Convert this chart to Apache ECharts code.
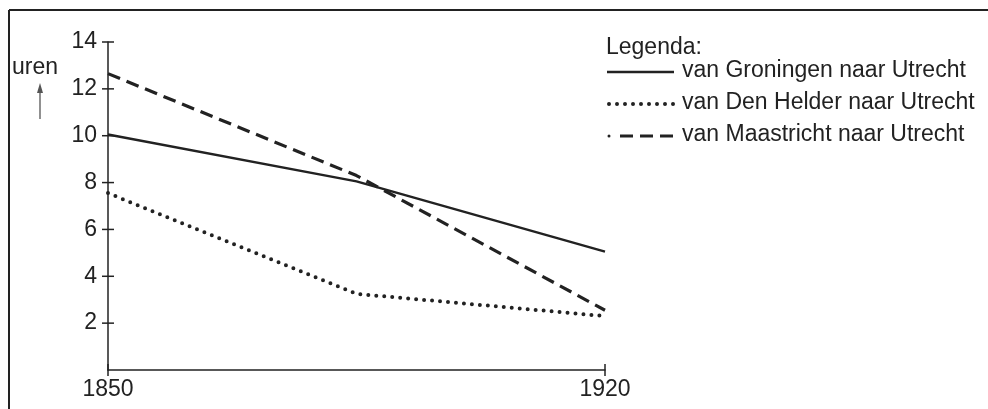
<!DOCTYPE html>
<html>
<head>
<meta charset="utf-8">
<script src="https://cdn.jsdelivr.net/npm/echarts@6/dist/echarts.min.js"></script>
<style>
html,body{margin:0;padding:0;background:#fff;}
#c{width:988px;height:409px;}
</style>
</head>
<body>
<div id="c"></div>
<script>
var years = [1850, 1885, 1920];
var groningen = [10.05, 8.05, 5.05];
var denHelder = [7.55, 3.25, 2.3];
var maastricht = [12.65, 8.3, 2.55];
var seriesNames = ['van Groningen naar Utrecht', 'van Den Helder naar Utrecht', 'van Maastricht naar Utrecht'];
var yTicks = [2, 4, 6, 8, 10, 12, 14];
var xTicks = [1850, 1920];
var legendTitle = 'Legenda:';
var yName = 'uren';

var ink = '#222';
var font = 'Liberation Sans, Arial, sans-serif';
var fs = 23;

function pairs(vals){ return years.map(function(y,i){ return [y, vals[i]]; }); }

var chart = echarts.init(document.getElementById('c'), null, {renderer:'canvas'});

var gridBox = {left:108, top:42, right:383, bottom:39};

var yAxis = {
  type:'value', min:0, max:14, interval:2,
  axisLine:{show:true, onZero:false, lineStyle:{color:ink, width:1.5}},
  axisTick:{show:false},
  axisLabel:{show:true, customValues:yTicks, color:ink, fontSize:fs, fontFamily:font, margin:11},
  splitLine:{show:false}
};
var xAxis = {
  type:'value', min:1850, max:1920,
  axisLine:{show:true, onZero:false, lineStyle:{color:ink, width:1.5}},
  axisTick:{show:false},
  axisLabel:{show:true, customValues:xTicks, color:ink, fontSize:fs, fontFamily:font, margin:8,
    formatter:function(v){ return String(v); }},
  splitLine:{show:false}
};

var legendRows = [72, 104, 136];
var styles = [
  {type:'solid', width:2.4, cap:'butt'},
  {type:[0, 8], width:4, cap:'round'},
  {type:[13, 7], width:3.2, cap:'butt'}
];

var graphics = [
  {type:'line', shape:{x1:9, y1:10, x2:988, y2:10}, style:{stroke:ink, lineWidth:2}},
  {type:'line', shape:{x1:9, y1:10, x2:9, y2:409}, style:{stroke:ink, lineWidth:2}},
  {type:'text', left:12, top:56, style:{text:yName, fill:ink, font:'23px ' + font}},
  {type:'line', shape:{x1:40, y1:119, x2:40, y2:90}, style:{stroke:'#555', lineWidth:1.3}},
  {type:'polygon', shape:{points:[[40,83],[37,93],[43,93]]}, style:{fill:'#555'}},
  {type:'text', left:606, top:36, style:{text:legendTitle, fill:ink, font:fs + 'px ' + font}}
];
seriesNames.forEach(function(n, i){
  var y = legendRows[i];
  var st = styles[i];
  var shape;
  if (i === 2) {
    graphics.push({type:'circle', shape:{cx:609, cy:y, r:1.5}, style:{fill:ink}});
    shape = {x1:620, y1:y, x2:675, y2:y};
  } else if (i === 1) {
    shape = {x1:609, y1:y, x2:677, y2:y};
  } else {
    shape = {x1:607, y1:y, x2:674, y2:y};
  }
  graphics.push({type:'line', shape:shape, style:{stroke:ink, lineWidth:st.width, lineDash:(st.type==='solid'?null:st.type), lineCap:st.cap}});
  graphics.push({type:'text', left:682, top:y - 13, style:{text:n, fill:ink, font:fs + 'px ' + font}});
});

function ser(name, vals, st){
  return {
    name:name, type:'line', data:pairs(vals),
    symbol:'none', smooth:false, silent:true,
    lineStyle:{color:ink, width:st.width, type:st.type, cap:st.cap, join:'round'}
  };
}

// crossing tick marks, placed through the axes' own scales
var tickData = yTicks.map(function(v){ return [1850, v, 0]; })
  .concat(xTicks.map(function(v){ return [v, 0, 1]; }));
var tickSeries = {
  type:'custom', silent:true, clip:false, z:5,
  data:tickData,
  renderItem:function(params, api){
    var p = api.coord([api.value(0), api.value(1)]);
    var vertical = api.value(2) === 1;
    var h = 6;
    return {
      type:'line',
      shape: vertical ? {x1:p[0], y1:p[1] - h, x2:p[0], y2:p[1] + h}
                      : {x1:p[0] - h, y1:p[1], x2:p[0] + h, y2:p[1]},
      style:{stroke:ink, lineWidth:1.5}
    };
  }
};

chart.setOption({
  animation:false,
  backgroundColor:'#fff',
  grid:gridBox,
  xAxis:xAxis,
  yAxis:yAxis,
  series:[
    ser(seriesNames[0], groningen, styles[0]),
    ser(seriesNames[1], denHelder, styles[1]),
    ser(seriesNames[2], maastricht, styles[2]),
    tickSeries
  ],
  graphic:graphics
});
</script>
</body>
</html>
